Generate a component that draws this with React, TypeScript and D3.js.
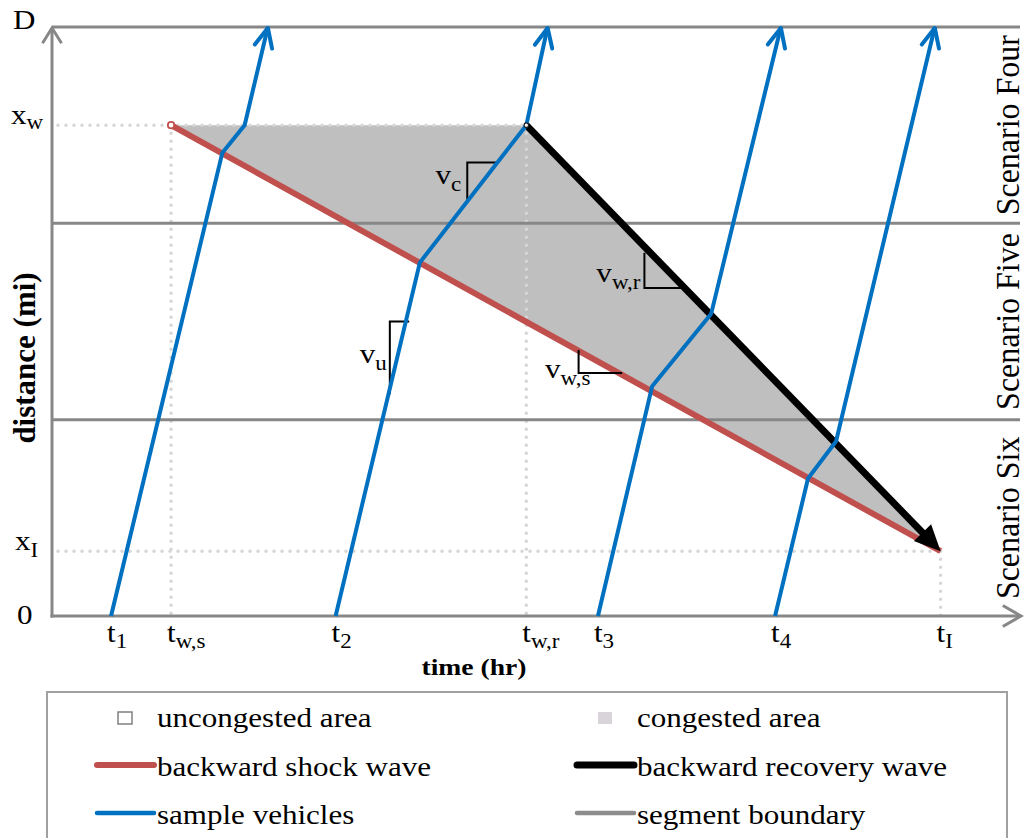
import React from "react";
import * as d3 from "d3";

// Time–distance diagram of a moving work zone: shock and recovery waves with sample vehicle trajectories.

const W = 1027;
const H = 838;

// Distance levels (mi, relative to segment length D = 3)
const distanceLevels = { D: 3, xW: 2.5, xI: 0.33 };
const segmentBoundaries = [1, 2, 3];

// Time ticks (hr, schematic)
const timeTicks = [
  { main: "t", sub: "1", t: 0.61 },
  { main: "t", sub: "w,s", t: 1.23 },
  { main: "t", sub: "2", t: 2.93 },
  { main: "t", sub: "w,r", t: 4.9 },
  { main: "t", sub: "3", t: 5.64 },
  { main: "t", sub: "4", t: 7.47 },
  { main: "t", sub: "I", t: 9.18 },
];

const distanceTicks = [
  { main: "D", sub: "", x: 3 },
  { main: "x", sub: "w", x: 2.5 },
  { main: "x", sub: "I", x: 0.33 },
  { main: "0", sub: "", x: 0 },
];

// Backward shock wave and backward recovery wave, [time, distance]
const shockWave: [number, number][] = [
  [1.23, 2.5],
  [9.18, 0.33],
];
const recoveryWave: [number, number][] = [
  [4.9, 2.5],
  [9.18, 0.33],
];

// Congested region bounded by the two waves
const congestedArea: [number, number][] = [
  [1.23, 2.5],
  [4.9, 2.5],
  [9.18, 0.33],
];

// Sample vehicle trajectories
const vehicle1: [number, number][] = [[0.61, 0], [1.76, 2.36], [1.99, 2.5], [2.23, 3]];
const vehicle2: [number, number][] = [[2.93, 0], [3.8, 1.8], [4.9, 2.5], [5.12, 3]];
const vehicle3: [number, number][] = [[5.64, 0], [6.2, 1.17], [6.81, 1.54], [7.53, 3]];
const vehicle4: [number, number][] = [[7.47, 0], [7.81, 0.7], [8.1, 0.89], [9.12, 3]];
const vehicles = [vehicle1, vehicle2, vehicle3, vehicle4];

// Slope indicators: polyline [t, x] and the speed symbol
const slopeMarkers = [
  { main: "v", sub: "c", pts: [[4.29, 2.12], [4.29, 2.31], [4.6, 2.31]] as [number, number][] },
  { main: "v", sub: "u", pts: [[3.69, 1.5], [3.49, 1.5], [3.49, 1.13]] as [number, number][] },
  { main: "v", sub: "w,s", pts: [[5.44, 1.355], [5.44, 1.238], [5.89, 1.238]] as [number, number][] },
  { main: "v", sub: "w,r", pts: [[6.12, 1.85], [6.12, 1.67], [6.51, 1.67]] as [number, number][] },
];

const scenarioNames = ["Scenario Four", "Scenario Five", "Scenario Six"];

const legendItems = [
  { label: "uncongested area", kind: "box", color: "#ffffff" },
  { label: "congested area", kind: "box", color: "#d8d4da" },
  { label: "backward shock wave", kind: "line", color: "#c0504d" },
  { label: "backward recovery wave", kind: "line", color: "#000000" },
  { label: "sample vehicles", kind: "line", color: "#0070c0" },
  { label: "segment boundary", kind: "line", color: "#8c8c8c" },
];

const COLORS = {
  axis: "#878787",
  shock: "#c0504d",
  recovery: "#000000",
  vehicle: "#0070c0",
  congested: "#bfbfbf",
  guide: "#d6d6d6",
};

const FONT = "Liberation Serif, Times New Roman, serif";
const SX = 1.15; // horizontal text stretch

const x = d3.scaleLinear().domain([0, 10]).range([52, 1020]);
const y = d3.scaleLinear().domain([0, 3]).range([616, 27]);

const line = d3
  .line<[number, number]>()
  .x((d) => x(d[0]))
  .y((d) => y(d[1]));

function chevron(p0: [number, number], p1: [number, number], len: number, deg: number) {
  // open arrowhead at p1 pointing from p0
  const dx = p1[0] - p0[0];
  const dy = p1[1] - p0[1];
  const L = Math.hypot(dx, dy);
  const ux = -dx / L;
  const uy = -dy / L;
  const a = (deg * Math.PI) / 180;
  const r = (ang: number): [number, number] => [
    p1[0] + len * (ux * Math.cos(ang) - uy * Math.sin(ang)),
    p1[1] + len * (ux * Math.sin(ang) + uy * Math.cos(ang)),
  ];
  const w1 = r(a);
  const w2 = r(-a);
  return `M${w1[0]},${w1[1]}L${p1[0]},${p1[1]}L${w2[0]},${w2[1]}`;
}

function filledHead(p0: [number, number], p1: [number, number], len: number, half: number) {
  const dx = p1[0] - p0[0];
  const dy = p1[1] - p0[1];
  const L = Math.hypot(dx, dy);
  const ux = dx / L;
  const uy = dy / L;
  const bx = p1[0] - ux * len;
  const by = p1[1] - uy * len;
  return `M${p1[0]},${p1[1]}L${bx - uy * half},${by + ux * half}L${bx + uy * half},${by - ux * half}Z`;
}

type LabelProps = {
  px: number;
  py: number;
  main: string;
  sub?: string;
  size?: number;
  subSize?: number;
  subDy?: number;
  anchor?: "start" | "middle" | "end";
  weight?: string | number;
};

function Label({ px, py, main, sub, size = 27, subSize = 20, subDy = 7, anchor = "start", weight }: LabelProps) {
  return (
    <g transform={`translate(${px},${py}) scale(${SX},1)`}>
      <text
        textAnchor={anchor}
        fontFamily={FONT}
        fontSize={size}
        fontWeight={weight}
        fill="#000"
      >
        {main}
        {sub ? (
          <tspan fontSize={subSize} dy={subDy}>
            {sub}
          </tspan>
        ) : null}
      </text>
    </g>
  );
}

export default function App() {
  const px = (p: [number, number]): [number, number] => [x(p[0]), y(p[1])];
  const x0 = x(0);
  const xEnd = 1021;
  const y0 = y(0);

  const recStart = px(recoveryWave[0]);
  const recEnd = px(recoveryWave[1]);
  const headLen = 26;
  const rdx = recEnd[0] - recStart[0];
  const rdy = recEnd[1] - recStart[1];
  const rL = Math.hypot(rdx, rdy);
  const recLineEnd: [number, number] = [recEnd[0] - (rdx / rL) * (headLen - 4), recEnd[1] - (rdy / rL) * (headLen - 4)];

  const tws = timeTicks[1].t;
  const twr = timeTicks[3].t;
  const tI = timeTicks[6].t;

  const legendTop = 692;
  const rowY = [718, 767, 815];
  const colX = [97, 577];
  const textX = [157, 637];

  return (
    <svg
      width={W}
      height={H}
      style={{ position: "absolute", left: 0, top: 0, background: "#fff" }}
    >
      {/* congested region */}
      <path d={line(congestedArea.concat([congestedArea[0]]))!} fill={COLORS.congested} stroke="none" />

      {/* dotted guides */}
      <g stroke={COLORS.guide} strokeWidth={3.5} strokeLinecap="round" strokeDasharray="0 8" fill="none">
        <line x1={x0 + 6} x2={x(twr)} y1={y(distanceLevels.xW)} y2={y(distanceLevels.xW)} />
        <line x1={x(tws)} x2={x(tws)} y1={y(distanceLevels.xW)} y2={y0} />
        <line x1={x(twr)} x2={x(twr)} y1={y(distanceLevels.xW)} y2={y0} />
        <line x1={x0 + 6} x2={x(tI)} y1={y(distanceLevels.xI)} y2={y(distanceLevels.xI)} />
        <line x1={x(tI)} x2={x(tI)} y1={y(distanceLevels.xI)} y2={y0} />
      </g>

      {/* segment boundaries */}
      {segmentBoundaries.map((b) => (
        <line key={b} x1={x0} x2={xEnd - 1} y1={y(b)} y2={y(b)} stroke={COLORS.axis} strokeWidth={3} />
      ))}

      {/* axes */}
      <g stroke={COLORS.axis} strokeWidth={3} fill="none" strokeLinecap="butt">
        <line x1={x0} x2={x0} y1={y0 + 1.5} y2={y(distanceLevels.D) + 1} />
        <path d={chevron([x0, y0], [x0, y(distanceLevels.D) + 1], 18, 32)} />
        <line x1={x0 - 1.5} x2={xEnd} y1={y0} y2={y0} />
        <path d={chevron([x0, y0], [xEnd, y0], 21, 30)} />
      </g>

      {/* backward shock wave */}
      <path d={line(shockWave)!} stroke={COLORS.shock} strokeWidth={6} fill="none" />
      <circle cx={x(shockWave[0][0])} cy={y(shockWave[0][1])} r={3.2} fill="#fff" stroke={COLORS.shock} strokeWidth={1.8} />

      {/* backward recovery wave */}
      <path d={`M${recStart[0]},${recStart[1]}L${recLineEnd[0]},${recLineEnd[1]}`} stroke={COLORS.recovery} strokeWidth={7} fill="none" />
      <path d={filledHead(recStart, recEnd, headLen, 12)} fill={COLORS.recovery} />

      {/* slope indicators */}
      {slopeMarkers.map((m, i) => (
        <path key={i} d={line(m.pts)!} stroke="#000" strokeWidth={2} fill="none" />
      ))}

      {/* sample vehicles */}
      {vehicles.map((v, i) => {
        const n = v.length;
        return (
          <g key={i} stroke={COLORS.vehicle} strokeWidth={4} fill="none" strokeLinejoin="round">
            <path d={line(v)!} />
            <path d={chevron(px(v[n - 2]), [x(v[n - 1][0]), y(v[n - 1][1]) + 1], 21, 25)} strokeLinecap="round" />
          </g>
        );
      })}
      <circle cx={recStart[0]} cy={recStart[1]} r={2.2} fill="#fff" stroke="#222" strokeWidth={1.2} />

      {/* slope labels */}
      <Label px={x(slopeMarkers[0].pts[1][0]) - 6} py={184} main="v" sub="c" anchor="end" />
      <Label px={x(slopeMarkers[1].pts[1][0]) - 3} py={363} main="v" sub="u" anchor="end" />
      <Label px={545} py={378} main="v" sub="w,s" />
      <Label px={x(slopeMarkers[3].pts[1][0]) - 4} py={282} main="v" sub="w,r" anchor="end" />

      {/* distance tick labels */}
      <Label px={13} py={29} main={distanceTicks[0].main} />
      <Label px={11} py={y(distanceTicks[1].x) - 1} main={distanceTicks[1].main} sub={distanceTicks[1].sub} subDy={5} />
      <Label px={15} py={y(distanceTicks[2].x) - 1} main={distanceTicks[2].main} sub={distanceTicks[2].sub} subDy={7} />
      <Label px={17} py={y(distanceTicks[3].x) + 8} main={distanceTicks[3].main} />

      {/* time tick labels */}
      {timeTicks.map((tk) => (
        <Label key={tk.sub} px={x(tk.t) - 4} py={642} main={tk.main} sub={tk.sub} subDy={6} />
      ))}

      {/* axis titles */}
      <Label px={474} py={675} main="time (hr)" size={24} anchor="middle" weight="bold" />
      <g transform={`translate(35,358) scale(1.05,1) rotate(-90)`}>
        <text textAnchor="middle" fontFamily={FONT} fontSize={31} fontWeight="bold">
          distance (mi)
        </text>
      </g>

      {/* scenario labels */}
      {scenarioNames.map((s, i) => (
        <g key={s} transform={`translate(1019,${y(2.5 - i)}) scale(1.05,1) rotate(-90)`}>
          <text textAnchor="middle" fontFamily={FONT} fontSize={32}>
            {s}
          </text>
        </g>
      ))}

      {/* legend */}
      <rect x={47} y={legendTop} width={960} height={200} fill="none" stroke="#a0a0a0" strokeWidth={2} />
      {legendItems.map((item, i) => {
        const col = i % 2;
        const row = Math.floor(i / 2);
        const cy = rowY[row];
        return (
          <g key={item.label}>
            {item.kind === "box" ? (
              <rect
                x={colX[col] + 21}
                y={cy - 6}
                width={14}
                height={12}
                fill={item.color}
                stroke={i === 0 ? "#808080" : "none"}
                strokeWidth={1.5}
              />
            ) : (
              <line
                x1={colX[col]}
                x2={colX[col] + 57}
                y1={cy - 2}
                y2={cy - 2}
                stroke={item.color}
                strokeWidth={i === 3 ? 7 : i === 2 ? 6 : 4.5}
                strokeLinecap="round"
              />
            )}
            <Label px={textX[col]} py={cy + 9} main={item.label} />
          </g>
        );
      })}
    </svg>
  );
}
